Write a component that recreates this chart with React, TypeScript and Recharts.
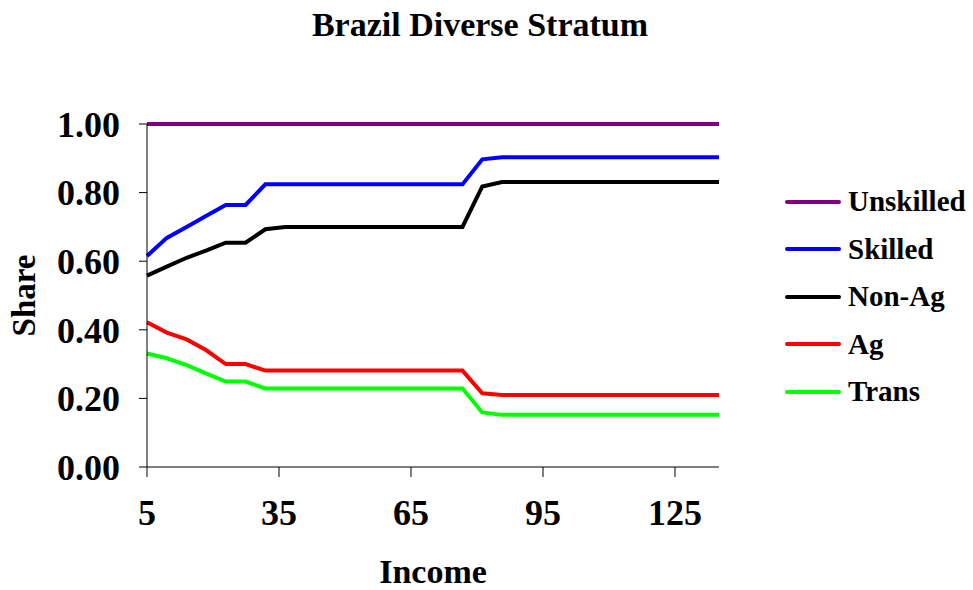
import React from 'react';
import { LineChart, Line, XAxis, YAxis } from 'recharts';

// income grid (30 points, 5 to 135)
const income = [
    5, 9.5, 14, 18.4, 22.9, 27.4, 31.9, 36.4, 40.9, 45.3,
    49.8, 54.3, 58.8, 63.3, 67.8, 72.2, 76.7, 81.2, 85.7, 90.2,
    94.7, 99.1, 103.6, 108.1, 112.6, 117.1, 121.6, 126, 130.5, 135,
];

const unskilled = [
    1, 1, 1, 1, 1, 1, 1, 1, 1, 1,
    1, 1, 1, 1, 1, 1, 1, 1, 1, 1,
    1, 1, 1, 1, 1, 1, 1, 1, 1, 1,
];
const skilled = [
    0.615, 0.668, 0.7, 0.732, 0.764, 0.764, 0.824, 0.824, 0.824, 0.824,
    0.824, 0.824, 0.824, 0.824, 0.824, 0.824, 0.824, 0.897, 0.903, 0.903,
    0.903, 0.903, 0.903, 0.903, 0.903, 0.903, 0.903, 0.903, 0.903, 0.903,
];
const nonAg = [
    0.558, 0.584, 0.61, 0.631, 0.654, 0.654, 0.693, 0.7, 0.7, 0.7,
    0.7, 0.7, 0.7, 0.7, 0.7, 0.7, 0.7, 0.818, 0.831, 0.831,
    0.831, 0.831, 0.831, 0.831, 0.831, 0.831, 0.831, 0.831, 0.831, 0.831,
];
const ag = [
    0.422, 0.392, 0.372, 0.341, 0.3, 0.3, 0.281, 0.281, 0.281, 0.281,
    0.281, 0.281, 0.281, 0.281, 0.281, 0.281, 0.281, 0.215, 0.21, 0.21,
    0.21, 0.21, 0.21, 0.21, 0.21, 0.21, 0.21, 0.21, 0.21, 0.21,
];
const trans = [
    0.331, 0.317, 0.297, 0.273, 0.249, 0.249, 0.229, 0.229, 0.229, 0.229,
    0.229, 0.229, 0.229, 0.229, 0.229, 0.229, 0.229, 0.159, 0.152, 0.152,
    0.152, 0.152, 0.152, 0.152, 0.152, 0.152, 0.152, 0.152, 0.152, 0.152,
];

const xTicks = [5, 35, 65, 95, 125];
const yTicks = [0, 0.2, 0.4, 0.6, 0.8, 1];

const series = [
    { key: 'unskilled', name: 'Unskilled', color: '#800080' },
    { key: 'skilled', name: 'Skilled', color: '#0000FF' },
    { key: 'nonAg', name: 'Non-Ag', color: '#000000' },
    { key: 'ag', name: 'Ag', color: '#FF0000' },
    { key: 'trans', name: 'Trans', color: '#00FF00' },
];

const data = income.map((x, i) => ({
    income: x,
    unskilled: unskilled[i],
    skilled: skilled[i],
    nonAg: nonAg[i],
    ag: ag[i],
    trans: trans[i],
}));

const font = '"Liberation Serif", "Times New Roman", serif';

export default function App() {
    return (
        <div style={{ position: 'absolute', left: 0, top: 0, width: 973, height: 590, background: '#fff', overflow: 'hidden' }}>
            <div style={{ position: 'absolute', left: 0, top: 6, width: 960, textAlign: 'center', fontFamily: font, fontWeight: 'bold', fontSize: 34 }}>
                Brazil Diverse Stratum
            </div>
            <LineChart width={973} height={590} data={data} margin={{ top: 124, right: 254, left: 47, bottom: 63 }}>
                <XAxis
                    dataKey="income"
                    type="number"
                    domain={[5, 135]}
                    ticks={xTicks}
                    interval={0}
                    height={60}
                    tickSize={10}
                    tickMargin={22}
                    stroke="#000"
                    tick={{ fill: '#000', fontFamily: font, fontWeight: 'bold', fontSize: 36 }}
                />
                <YAxis
                    type="number"
                    domain={[0, 1]}
                    ticks={yTicks}
                    interval={0}
                    width={100}
                    tickSize={8}
                    tickMargin={19}
                    stroke="#000"
                    tickFormatter={(v: number) => v.toFixed(2)}
                    tick={{ fill: '#000', fontFamily: font, fontWeight: 'bold', fontSize: 36 }}
                    label={{ value: 'Share', angle: -90, position: 'insideLeft', offset: -24, fill: '#000', fontFamily: font, fontWeight: 'bold', fontSize: 33, style: { textAnchor: 'middle' } }}
                />
                {series.map(s => (
                    <Line key={s.key} type="linear" dataKey={s.key} name={s.name} stroke={s.color}
                        strokeWidth={4} dot={false} isAnimationActive={false} />
                ))}
            </LineChart>
            {/* x axis title kept as html so it sits flush with the bottom edge */}
            <div style={{ position: 'absolute', left: 333, top: 555, width: 200, textAlign: 'center', fontFamily: font, fontWeight: 'bold', fontSize: 34, lineHeight: '34px' }}>
                Income
            </div>
            <div style={{ position: 'absolute', left: 785, top: 178, fontFamily: font, fontWeight: 'bold', fontSize: 29 }}>
                {series.map(s => (
                    <div key={s.key} style={{ display: 'flex', alignItems: 'center', height: 47.5 }}>
                        <div style={{ width: 56, height: 4, background: s.color, borderRadius: 2, marginRight: 7 }} />
                        <span style={{ color: '#000', whiteSpace: 'nowrap' }}>{s.name}</span>
                    </div>
                ))}
            </div>
        </div>
    );
}
